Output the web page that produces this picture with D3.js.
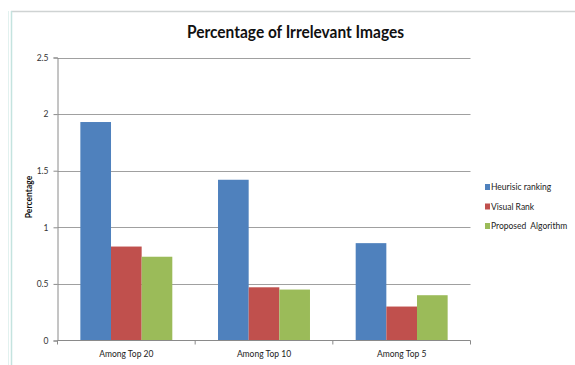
<!DOCTYPE html>
<html>
<head>
<meta charset="utf-8">
<script src="https://cdn.jsdelivr.net/npm/d3@7"></script>
<style>
  html, body { margin: 0; padding: 0; background: #fff; }
  svg { display: block; }
  text { font-family: Lato, "Open Sans", sans-serif; }
</style>
</head>
<body>
<script>
const categories = ["Among Top 20", "Among Top 10", "Among Top 5"];
const seriesNames = ["Heurisic ranking", "Visual Rank", "Proposed  Algorithm"];
const heuristic = [1.93, 1.42, 0.86];
const visualRank = [0.83, 0.47, 0.30];
const proposed = [0.74, 0.45, 0.40];
const yTicks = [0, 0.5, 1, 1.5, 2, 2.5];
const colors = ["#4f81bd", "#c0504d", "#9bbb59"];

const seriesValues = [heuristic, visualRank, proposed];
const rows = categories.map((c, i) => ({
  cat: c,
  vals: seriesNames.map((s, j) => ({ key: s, value: seriesValues[j][i], idx: j }))
}));

const W = 575, H = 365;
const plot = { left: 57.5, right: 470.5, top: 57.5, bottom: 340.5 };

const svg = d3.select("body").append("svg").attr("width", W).attr("height", H);

// chart frame (spreadsheet chart object border)
svg.append("line").attr("x1", 11).attr("x2", W).attr("y1", 11.5).attr("y2", 11.5)
  .attr("stroke", "#cfd3d3").attr("stroke-width", 1.5);
svg.append("line").attr("x1", 11.5).attr("x2", 11.5).attr("y1", 11).attr("y2", H)
  .attr("stroke", "#c4e3df").attr("stroke-width", 1.5);
svg.append("line").attr("x1", 8.5).attr("x2", 8.5).attr("y1", 11).attr("y2", H)
  .attr("stroke", "#e2f1ef").attr("stroke-width", 1);

const y = d3.scaleLinear().domain([0, 2.5]).range([plot.bottom, plot.top]);
const x0 = d3.scaleBand().domain(categories).range([plot.left, plot.right])
  .paddingInner(0.332).paddingOuter(0.166);
const x1 = d3.scaleBand().domain(seriesNames).range([0, x0.bandwidth()]);

// gridlines
svg.append("g").selectAll("line").data(yTicks.filter(t => t > 0)).join("line")
  .attr("x1", plot.left).attr("x2", plot.right)
  .attr("y1", d => Math.round(y(d)) + 0.5).attr("y2", d => Math.round(y(d)) + 0.5)
  .attr("stroke", "#a0a0a0").attr("stroke-width", 1);

// bars
svg.append("g").selectAll("g").data(rows).join("g")
  .attr("transform", d => `translate(${x0(d.cat)},0)`)
  .selectAll("rect").data(d => d.vals).join("rect")
  .attr("x", d => x1(d.key)).attr("width", x1.bandwidth())
  .attr("y", d => y(d.value)).attr("height", d => y(0) - y(d.value))
  .attr("fill", d => colors[d.idx]);

// y axis
const yAxis = d3.axisLeft(y).tickValues(yTicks).tickFormat(d3.format("")).tickSize(4).tickPadding(5);
const gy = svg.append("g").attr("transform", `translate(${plot.left},0)`).call(yAxis);
gy.select(".domain").attr("stroke", "#8a8a8a");
gy.selectAll(".tick line").attr("stroke", "#8a8a8a");
gy.selectAll(".tick text").attr("font-size", 8.5).attr("fill", "#333")
  .style("font-family", "Lato, sans-serif");

// x axis with ticks at category boundaries
const xAxis = d3.axisBottom(x0).tickSize(0).tickPadding(10);
const gx = svg.append("g").attr("transform", `translate(0,${plot.bottom})`).call(xAxis);
gx.select(".domain").remove();
gx.selectAll(".tick text").attr("font-size", 8.5).attr("fill", "#222")
  .style("font-family", "Lato, sans-serif");
svg.append("line").attr("x1", plot.left).attr("x2", plot.right)
  .attr("y1", plot.bottom).attr("y2", plot.bottom).attr("stroke", "#8a8a8a");
const step = x0.step();
const bounds = d3.range(categories.length + 1).map(i => plot.left + i * step);
svg.append("g").selectAll("line").data(bounds).join("line")
  .attr("x1", d => d).attr("x2", d => d)
  .attr("y1", plot.bottom).attr("y2", plot.bottom + 4).attr("stroke", "#8a8a8a");

// title
svg.append("text").attr("x", 295.5).attr("y", 38).attr("text-anchor", "middle")
  .attr("font-size", 16.5).attr("font-weight", "bold").attr("fill", "#111")
  .attr("textLength", 217).attr("lengthAdjust", "spacingAndGlyphs")
  .text("Percentage of Irrelevant Images");

// y label
svg.append("text").attr("transform", "translate(32,197) rotate(-90)")
  .attr("text-anchor", "middle").attr("font-size", 8.5).attr("font-weight", "bold")
  .attr("fill", "#111").text("Percentage");

// legend
const legendY = [187, 206.5, 226];
const lg = svg.append("g").selectAll("g").data(seriesNames).join("g")
  .attr("transform", (d, i) => `translate(485,${legendY[i]})`);
lg.append("rect").attr("x", 0).attr("y", -3).attr("width", 5).attr("height", 6)
  .attr("fill", (d, i) => colors[i]);
lg.append("text").attr("x", 6).attr("y", 3).attr("font-size", 8.5).attr("fill", "#222")
  .style("white-space", "pre").text(d => d);
</script>
</body>
</html>
